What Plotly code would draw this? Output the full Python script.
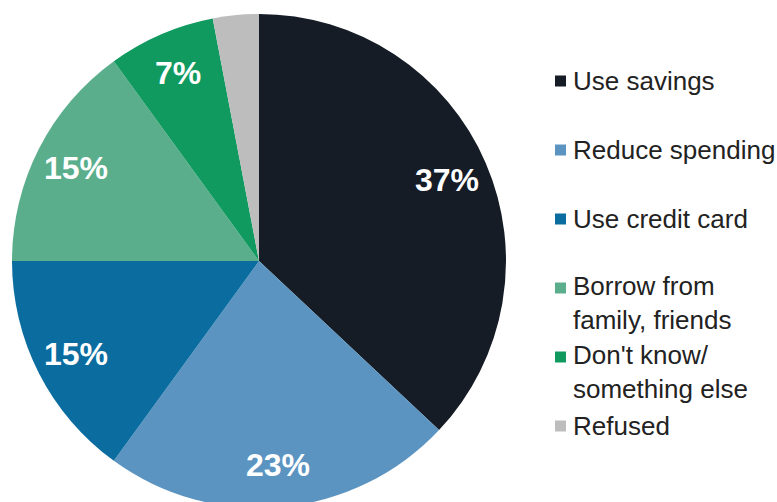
import math
import plotly.graph_objects as go

labels = ["Use savings", "Reduce spending", "Use credit card",
          "Borrow from family, friends", "Don't know/ something else", "Refused"]
legend_text = ["Use savings", "Reduce spending", "Use credit card",
               "Borrow from<br>family, friends", "Don't know/<br>something else", "Refused"]
values = [37, 23, 15, 15, 7, 3]
pct_text = ["37%", "23%", "15%", "15%", "7%", ""]
colors = ["#151c26", "#5b94c1", "#0a6c9f", "#5aae8c", "#119a5f", "#bdbdbd"]

W, H = 777, 520
CX, CY, R = 259, 261, 247   # pie centre / radius in pixels

def px_x(x):
    return x / W

def px_y(y):
    return 1 - y / H

fig = go.Figure()
fig.add_trace(go.Pie(
    labels=labels,
    values=values,
    textinfo="none",
    marker=dict(colors=colors, line=dict(width=0)),
    sort=False,
    direction="clockwise",
    rotation=0,
    showlegend=False,
    hoverinfo="label+percent",
    domain=dict(x=[px_x(CX - R), px_x(CX + R)], y=[px_y(CY + R), px_y(CY - R)]),
))

# percentage labels placed at slice mid-angles (computed from values)
total = sum(values)
cum = 0
for v, t in zip(values, pct_text):
    mid = (cum + v / 2) / total * 2 * math.pi
    cum += v
    if not t:
        continue
    r = 0.83 * R
    lx = CX + r * math.sin(mid)
    ly = CY - r * math.cos(mid)
    fig.add_annotation(x=px_x(lx), y=px_y(ly), xref="paper", yref="paper",
                       text=t, showarrow=False, xanchor="center", yanchor="middle",
                       font=dict(family="Arial", size=32, color="white", weight="bold"))

# legend built as text + squares
legend_y = [81, 150, 219, 303, 372, 426]
for lab, col, yc in zip(legend_text, colors, legend_y):
    sy = yc - (15 if "<br>" in lab else 0)
    fig.add_shape(type="rect", xref="paper", yref="paper",
                  x0=px_x(555), x1=px_x(566),
                  y0=px_y(sy + 5.5), y1=px_y(sy - 5.5),
                  fillcolor=col, line=dict(width=0))
    fig.add_annotation(x=px_x(571), y=px_y(yc), xref="paper", yref="paper",
                       text=lab, showarrow=False, xanchor="left", yanchor="middle",
                       align="left",
                       font=dict(family="Arial", size=26, color="#222222"))

fig.update_layout(
    width=W, height=H,
    margin=dict(l=0, r=0, t=0, b=0),
    paper_bgcolor="white",
    plot_bgcolor="white",
)

fig.write_html("out.html")
